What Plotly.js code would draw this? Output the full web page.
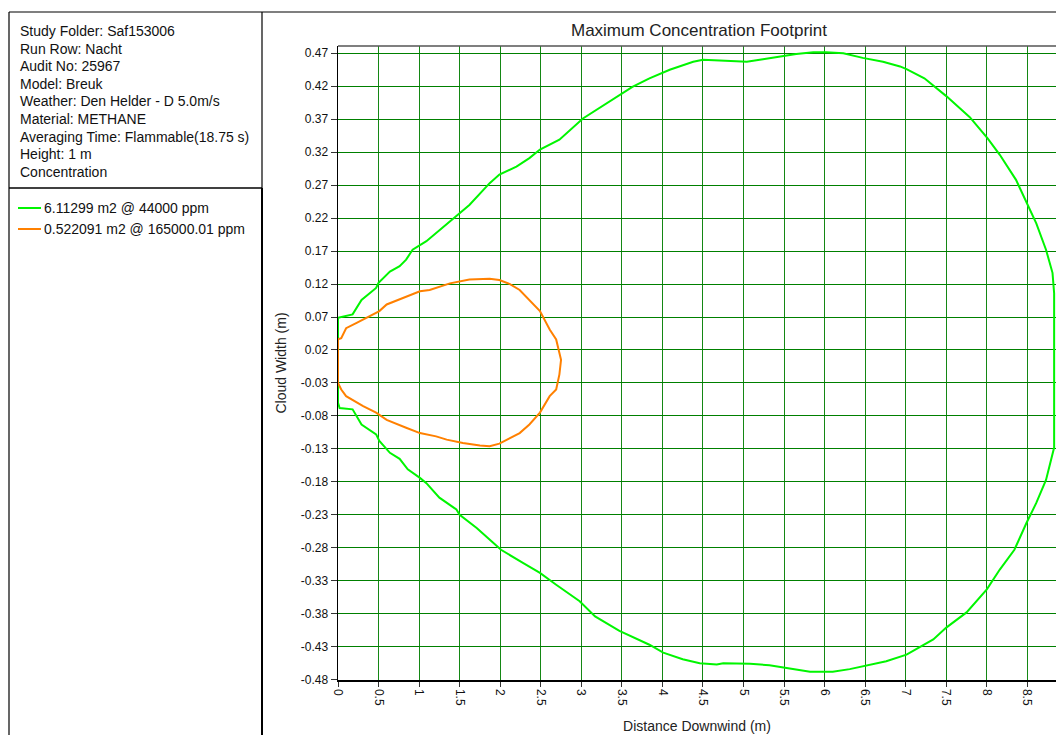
<!DOCTYPE html>
<html>
<head>
<meta charset="utf-8">
<script src="https://cdn.plot.ly/plotly-3.0.1.min.js"></script>
<style>html,body{margin:0;padding:0;background:#fff;}#chart{width:1056px;height:735px;}</style>
</head>
<body>
<div id="chart"></div>
<script>
// ---- data ----
const greenName = "6.11299 m2 @ 44000 ppm";
const greenX = [0, 0, 0.18, 0.29, 0.47, 0.50, 0.64, 0.76, 0.84, 0.92, 1.09, 1.25, 1.48, 1.62, 1.87, 1.99, 2.20, 2.36, 2.49, 2.73, 3.02, 3.31, 3.63, 3.84, 4.09, 4.38, 4.50, 4.91, 5.04, 5.24, 5.49, 5.65, 5.86, 6.02, 6.23, 6.47, 6.72, 6.93, 7.01, 7.23, 7.50, 7.79, 8.01, 8.16, 8.36, 8.49, 8.61, 8.73, 8.81, 8.83, 8.83, 8.83, 8.83, 8.73, 8.61, 8.49, 8.34, 8.16, 8.00, 7.75, 7.50, 7.34, 7.23, 7.01, 6.76, 6.52, 6.31, 6.10, 5.82, 5.57, 5.32, 5.08, 4.75, 4.67, 4.46, 4.25, 4.01, 3.84, 3.47, 3.17, 2.98, 2.69, 2.49, 2.28, 2.01, 1.91, 1.71, 1.50, 1.46, 1.25, 1.09, 1.01, 0.86, 0.76, 0.64, 0.51, 0.47, 0.29, 0.18, 0.02, 0];
const greenY = [-0.060, 0.069, 0.074, 0.096, 0.114, 0.122, 0.139, 0.147, 0.157, 0.172, 0.185, 0.202, 0.225, 0.240, 0.273, 0.286, 0.298, 0.311, 0.324, 0.339, 0.371, 0.394, 0.419, 0.432, 0.445, 0.457, 0.460, 0.458, 0.457, 0.461, 0.466, 0.469, 0.4715, 0.4715, 0.470, 0.463, 0.457, 0.450, 0.446, 0.432, 0.405, 0.373, 0.341, 0.316, 0.278, 0.243, 0.212, 0.172, 0.137, 0.106, 0.071, -0.070, -0.128, -0.177, -0.212, -0.242, -0.283, -0.313, -0.343, -0.378, -0.401, -0.419, -0.427, -0.442, -0.452, -0.458, -0.464, -0.468, -0.468, -0.463, -0.458, -0.456, -0.455, -0.457, -0.455, -0.449, -0.439, -0.427, -0.406, -0.384, -0.361, -0.336, -0.318, -0.303, -0.283, -0.272, -0.250, -0.230, -0.222, -0.204, -0.182, -0.174, -0.161, -0.145, -0.136, -0.118, -0.108, -0.093, -0.070, -0.068, -0.060];

const orangeName = "0.522091 m2 @ 165000.01 ppm";
const orangeX = [0, 0, 0.04, 0.10, 0.23, 0.39, 0.51, 0.60, 0.84, 1.01, 1.13, 1.25, 1.38, 1.62, 1.87, 1.99, 2.12, 2.24, 2.36, 2.49, 2.61, 2.69, 2.75, 2.73, 2.69, 2.61, 2.49, 2.36, 2.24, 1.99, 1.87, 1.75, 1.54, 1.34, 1.21, 1.01, 0.84, 0.60, 0.47, 0.31, 0.10, 0.04, 0];
const orangeY = [-0.030, 0.036, 0.038, 0.053, 0.061, 0.071, 0.079, 0.089, 0.101, 0.109, 0.111, 0.116, 0.121, 0.127, 0.128, 0.126, 0.120, 0.111, 0.096, 0.079, 0.051, 0.036, 0.005, -0.017, -0.040, -0.050, -0.075, -0.093, -0.106, -0.122, -0.126, -0.125, -0.121, -0.116, -0.111, -0.106, -0.098, -0.086, -0.075, -0.065, -0.050, -0.040, -0.030];

const xTickVals = [0, 0.5, 1, 1.5, 2, 2.5, 3, 3.5, 4, 4.5, 5, 5.5, 6, 6.5, 7, 7.5, 8, 8.5];
const xTickText = ["0", "0.5", "1", "1.5", "2", "2.5", "3", "3.5", "4", "4.5", "5", "5.5", "6", "6.5", "7", "7.5", "8", "8.5"];
const yTickVals = [0.47, 0.42, 0.37, 0.32, 0.27, 0.22, 0.17, 0.12, 0.07, 0.02, -0.03, -0.08, -0.13, -0.18, -0.23, -0.28, -0.33, -0.38, -0.43, -0.48];
const yTickText = ["0.47", "0.42", "0.37", "0.32", "0.27", "0.22", "0.17", "0.12", "0.07", "0.02", "-0.03", "-0.08", "-0.13", "-0.18", "-0.23", "-0.28", "-0.33", "-0.38", "-0.43", "-0.48"];

const chartTitle = "Maximum Concentration Footprint";
const xTitle = "Distance Downwind (m)";
const yTitle = "Cloud Width (m)";
const infoLines = ["Study Folder: Saf153006", "Run Row: Nacht", "Audit No: 25967", "Model: Breuk", "Weather: Den Helder - D 5.0m/s", "Material: METHANE", "Averaging Time: Flammable(18.75 s)", "Height: 1 m", "Concentration"];

// ---- layout helpers (pixel -> paper) ----
const W = 1056, H = 735;
const L = 338, R = 0, T = 46, B = 55;
const PW = W - L - R, PH = H - T - B;
const px = v => (v - L) / PW;
const py = v => (H - B - v) / PH;

const FONT = "Liberation Sans, Arial, sans-serif";
const GREEN = "rgb(0,245,0)";
const ORANGE = "rgb(255,128,0)";

const traces = [
  {x: greenX, y: greenY, name: greenName, type: "scatter", mode: "lines",
   line: {color: GREEN, width: 2}, hoverinfo: "skip"},
  {x: orangeX, y: orangeY, name: orangeName, type: "scatter", mode: "lines",
   line: {color: ORANGE, width: 2}, hoverinfo: "skip"}
];

const shapes = [];
const annotations = [];
function line(x0, y0, x1, y1, color, width) {
  shapes.push({type: "line", xref: "paper", yref: "paper", x0: px(x0), y0: py(y0), x1: px(x1), y1: py(y1),
    line: {color: color, width: width}, layer: "above"});
}
// panel borders
line(9, 12, 1056, 12, "#000", 1.2);
line(9, 12, 9, 735, "#000", 1.2);
line(262, 12, 262, 188, "#000", 1.2);
line(262, 188, 262, 735, "#000", 2);
line(9, 188, 262, 188, "#000", 1.5);
// plot top border
line(338, 46, 1056, 46, "#555", 1.5);

infoLines.forEach((t, i) => {
  annotations.push({text: t, xref: "paper", yref: "paper", x: px(18), y: py(31 + i * 17.6),
    xanchor: "left", yanchor: "middle", showarrow: false, font: {family: FONT, size: 14, color: "#111"}});
});
// legend
const legendItems = [[greenName, GREEN, 208], [orangeName, ORANGE, 229]];
legendItems.forEach(it => {
  line(18, it[2], 41, it[2], it[1], 2);
  annotations.push({text: it[0], xref: "paper", yref: "paper", x: px(42), y: py(it[2]),
    xanchor: "left", yanchor: "middle", showarrow: false, font: {family: FONT, size: 14, color: "#111"}});
});

const layout = {
  width: W, height: H,
  margin: {l: L, r: R, t: T, b: B, pad: 0},
  paper_bgcolor: "#fff", plot_bgcolor: "#fff",
  showlegend: false,
  font: {family: FONT, size: 12, color: "#111"},
  title: {text: chartTitle, font: {family: FONT, size: 17, color: "#222"},
    x: px(699), xref: "paper", xanchor: "center", y: 1 - 30 / H, yanchor: "middle"},
  xaxis: {
    range: [0, 8.853], tickmode: "array", tickvals: xTickVals, ticktext: xTickText,
    tickangle: 90, ticks: "outside", ticklen: 5, tickcolor: "#333",
    showgrid: true, gridcolor: "rgb(20,135,20)", gridwidth: 1, zeroline: false,
    showline: true, linecolor: "#000", linewidth: 1.5,
    tickfont: {family: FONT, size: 12, color: "#111"},
    title: {text: xTitle, font: {family: FONT, size: 14, color: "#222"}, standoff: 16},
    fixedrange: true
  },
  yaxis: {
    range: [-0.4805, 0.481], tickmode: "array", tickvals: yTickVals, ticktext: yTickText,
    ticks: "outside", ticklen: 6, tickcolor: "#333",
    showgrid: true, gridcolor: "rgb(0,128,0)", gridwidth: 1, zeroline: false,
    showline: true, linecolor: "#000", linewidth: 1.5,
    tickfont: {family: FONT, size: 12, color: "#111"},
    title: {text: yTitle, font: {family: FONT, size: 14, color: "#222"}, standoff: 11},
    fixedrange: true
  },
  shapes: shapes,
  annotations: annotations
};

Plotly.newPlot("chart", traces, layout, {displayModeBar: false, staticPlot: true});
</script>
</body>
</html>
